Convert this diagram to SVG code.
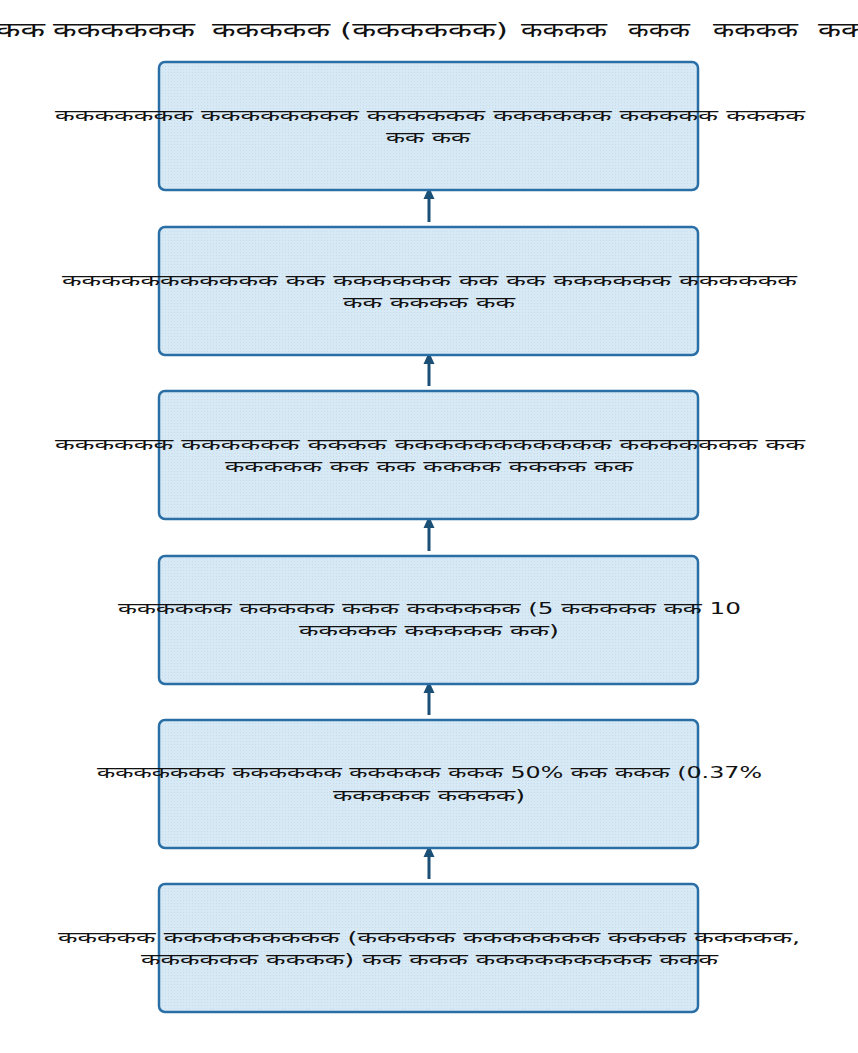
<svg xmlns="http://www.w3.org/2000/svg" width="858" height="1053" viewBox="0 0 858 1053">
<style>
.node{fill:#d8e9f6;stroke:#2a6ea6;stroke-width:2.5}
.tex{fill:url(#dots)}
.t{font-family:"DejaVu Sans","Noto Sans","Liberation Sans",sans-serif;font-size:16px;fill:#111;text-anchor:middle}
.title{font-family:"DejaVu Sans","Noto Sans","Liberation Sans",sans-serif;font-size:20px;fill:#111}
.edge{stroke:#1b4f75;stroke-width:3;fill:none}
.head{fill:#1b4f75}
</style>
<defs>
<pattern id="dots" width="3" height="3" patternUnits="userSpaceOnUse">
<rect x="0" y="0" width="1" height="1" fill="#c6dbeb"/>
</pattern>
</defs>
<rect width="858" height="1053" fill="#ffffff"/>
<g id="title">
<text class="title" y="37">
<tspan x="-4" textLength="49" lengthAdjust="spacingAndGlyphs">कक</tspan>
<tspan x="53" textLength="142" lengthAdjust="spacingAndGlyphs">कककककक</tspan>
<tspan x="212" textLength="118" lengthAdjust="spacingAndGlyphs">ककककक</tspan>
<tspan x="340" textLength="168" lengthAdjust="spacingAndGlyphs">(कककककक)</tspan>
<tspan x="521" textLength="86" lengthAdjust="spacingAndGlyphs">कककक</tspan>
<tspan x="628" textLength="62" lengthAdjust="spacingAndGlyphs">ककक</tspan>
<tspan x="713" textLength="85" lengthAdjust="spacingAndGlyphs">कककक</tspan>
<tspan x="818" textLength="46" lengthAdjust="spacingAndGlyphs">कक</tspan>
</text>
</g>
<g id="connectors">
<line class="edge" x1="429" y1="222" x2="429" y2="196"/>
<polygon class="head" points="429,187 423.5,199 434.5,199"/>
<line class="edge" x1="429" y1="386" x2="429" y2="361"/>
<polygon class="head" points="429,352 423.5,364 434.5,364"/>
<line class="edge" x1="429" y1="551" x2="429" y2="525"/>
<polygon class="head" points="429,516 423.5,528 434.5,528"/>
<line class="edge" x1="429" y1="715" x2="429" y2="690"/>
<polygon class="head" points="429,681 423.5,693 434.5,693"/>
<line class="edge" x1="429" y1="879" x2="429" y2="854"/>
<polygon class="head" points="429,845 423.5,857 434.5,857"/>
</g>
<g id="node1">
<rect class="node" x="159" y="62" width="539" height="128" rx="6"/>
<rect class="tex" x="161" y="64" width="535" height="124" rx="5"/>
<text class="t" x="430" y="121" textLength="750" lengthAdjust="spacingAndGlyphs">ककककककक कककककककक कककककक कककककक ककककक कककक</text>
<text class="t" x="428" y="143" textLength="84" lengthAdjust="spacingAndGlyphs">कक कक</text>
</g>
<g id="node2">
<rect class="node" x="159" y="227" width="539" height="128" rx="6"/>
<rect class="tex" x="161" y="229" width="535" height="124" rx="5"/>
<text class="t" x="429.5" y="286" textLength="735" lengthAdjust="spacingAndGlyphs">ककककककककककक कक कककककक कक कक कककककक कककककक</text>
<text class="t" x="429" y="308" textLength="172" lengthAdjust="spacingAndGlyphs">कक कककक कक</text>
</g>
<g id="node3">
<rect class="node" x="159" y="391" width="539" height="128" rx="6"/>
<rect class="tex" x="161" y="393" width="535" height="124" rx="5"/>
<text class="t" x="430" y="450" textLength="750" lengthAdjust="spacingAndGlyphs">कककककक कककककक कककक ककककककककककक ककककककक कक</text>
<text class="t" x="429" y="472" textLength="408" lengthAdjust="spacingAndGlyphs">ककककक कक कक कककक कककक कक</text>
</g>
<g id="node4">
<rect class="node" x="159" y="556" width="539" height="128" rx="6"/>
<rect class="tex" x="161" y="558" width="535" height="124" rx="5"/>
<text class="t" x="429.5" y="614" textLength="623" lengthAdjust="spacingAndGlyphs">कककककक ककककक ककक कककककक (5 ककककक कक 10</text>
<text class="t" x="429" y="636" textLength="260" lengthAdjust="spacingAndGlyphs">ककककक ककककक कक)</text>
</g>
<g id="node5">
<rect class="node" x="159" y="720" width="539" height="128" rx="6"/>
<rect class="tex" x="161" y="722" width="535" height="124" rx="5"/>
<text class="t" x="429.5" y="778" textLength="665" lengthAdjust="spacingAndGlyphs">ककककककक कककककक ककककक ककक 50% कक ककक (0.37%</text>
<text class="t" x="429" y="801" textLength="192" lengthAdjust="spacingAndGlyphs">ककककक कककक)</text>
</g>
<g id="node6">
<rect class="node" x="159" y="884" width="539" height="128" rx="6"/>
<rect class="tex" x="161" y="886" width="535" height="124" rx="5"/>
<text class="t" x="429" y="943" textLength="742" lengthAdjust="spacingAndGlyphs">ककककक ककककककककक (ककककक ककककककक कककक ककककक,</text>
<text class="t" x="429.5" y="965" textLength="577" lengthAdjust="spacingAndGlyphs">कककककक कककक) कक ककक ककककककककक ककक</text>
</g>
</svg>
